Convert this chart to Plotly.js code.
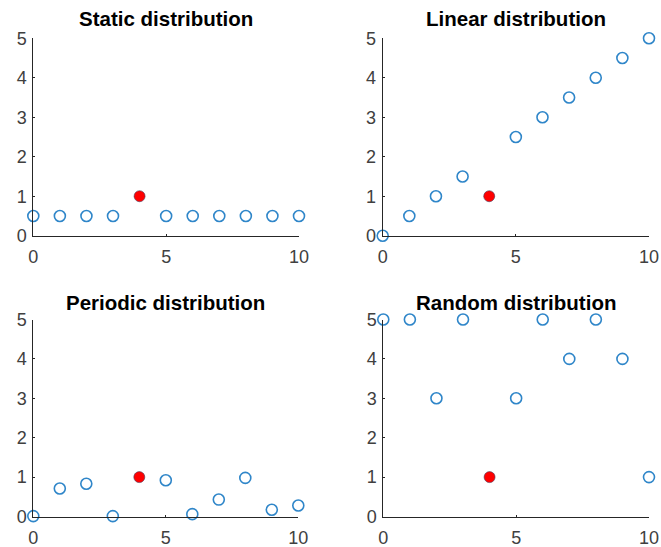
<!DOCTYPE html>
<html><head><meta charset="utf-8">
<script src="https://cdn.plot.ly/plotly-3.0.1.min.js"></script>
<style>html,body{margin:0;padding:0;background:#fff}#plot{width:661px;height:547px}</style>
</head><body><div id="plot"></div>
<script>
const xs = [0,1,2,3,4,5,6,7,8,9,10];
const highlightIndex = 4;
const staticY   = [0.5,0.5,0.5,0.5,1,0.5,0.5,0.5,0.5,0.5,0.5];
const linearY   = [0,0.5,1,1.5,1,2.5,3,3.5,4,4.5,5];
const periodicY = [0.01,0.71,0.83,0.01,1,0.92,0.06,0.43,0.98,0.17,0.28];
const randomY   = [5,5,3,5,1,3,5,4,5,4,1];
const titles = ["Static distribution","Linear distribution","Periodic distribution","Random distribution"];
const series = [staticY, linearY, periodicY, randomY];

const blue = '#2f86c9';
const traces = [];
series.forEach((ys, k) => {
  const ax = k === 0 ? '' : String(k+1);
  const ox = [], oy = [];
  xs.forEach((x,i) => { if (i !== highlightIndex) { ox.push(x); oy.push(ys[i]); } });
  traces.push({x: ox, y: oy, xaxis: 'x'+ax, yaxis: 'y'+ax, type: 'scatter', mode: 'markers', cliponaxis: false,
    marker: {symbol: 'circle-open', size: 11, color: blue, line: {width: 1.6, color: blue}}, hoverinfo: 'skip'});
  traces.push({x: [xs[highlightIndex]], y: [ys[highlightIndex]], xaxis: 'x'+ax, yaxis: 'y'+ax, type: 'scatter', mode: 'markers', cliponaxis: false,
    marker: {symbol: 'circle', size: 11, color: '#ff0000', line: {width: 0.6, color: '#4a3a5a'}}, hoverinfo: 'skip'});
});

const W = 661, H = 547;
const xd = [[33.3,299],[382.7,649],[33.3,298.3],[383.3,649]];
const yd = [[38.3,235.7],[38.3,235.7],[319.5,516.5],[319.5,516.5]];
const font = {family: 'Liberation Sans, Arial, sans-serif', size: 18, color: '#404040'};
const layout = {width: W, height: H, margin: {l:0,r:0,t:0,b:0}, showlegend: false,
  paper_bgcolor: '#fff', plot_bgcolor: '#fff', font: font, annotations: []};
for (let k = 0; k < 4; k++) {
  const ax = k === 0 ? '' : String(k+1);
  layout['xaxis'+ax] = {domain: [xd[k][0]/W, xd[k][1]/W], range: [0,10], anchor: 'y'+ax,
    tickvals: [0,5,10], showgrid: false, zeroline: false, showline: true, linecolor: '#262626', linewidth: 1,
    ticks: 'inside', ticklen: 2, tickcolor: '#262626', tickfont: font, ticklabelstandoff: 5, fixedrange: true};
  layout['yaxis'+ax] = {domain: [1 - yd[k][1]/H, 1 - yd[k][0]/H], range: [0,5], anchor: 'x'+ax,
    tickvals: [0,1,2,3,4,5], showgrid: false, zeroline: false, showline: true, linecolor: '#262626', linewidth: 1,
    ticks: 'inside', ticklen: 2, tickcolor: '#262626', tickfont: font, ticklabelstandoff: 2, fixedrange: true};
  layout.annotations.push({text: '<b>' + titles[k] + '</b>', xref: 'paper', yref: 'paper',
    x: (xd[k][0] + xd[k][1]) / 2 / W, y: 1 - (k < 2 ? 19 : 302) / H, xanchor: 'center', yanchor: 'middle',
    showarrow: false, font: {family: 'Liberation Sans, Arial, sans-serif', size: 20.5, color: '#000'}});
}
Plotly.newPlot('plot', traces, layout, {staticPlot: true});
</script></body></html>
